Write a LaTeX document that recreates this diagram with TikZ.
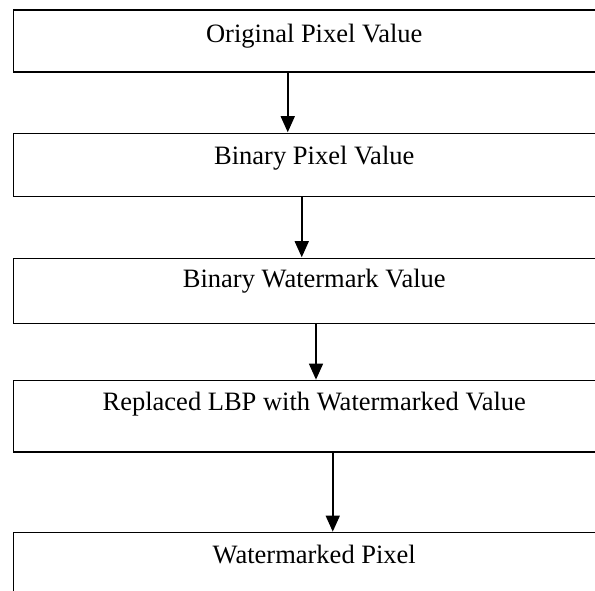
\documentclass[tikz,border=0pt]{standalone}
\usepackage{fontspec}
\setmainfont{Liberation Serif}
\usetikzlibrary{arrows.meta}
\tikzset{
  box/.style={draw=black, line width=1.5pt, rectangle, minimum width=601.5pt, inner sep=0pt, fill=none},
  txt/.style={anchor=base, inner sep=0pt, font=\fontsize{26.5}{30}\selectfont},
  arr/.style={draw=black, line width=1.5pt, -{Triangle[length=16pt,width=14pt]}, shorten >=0.3pt}
}
\begin{document}
\begin{tikzpicture}[x=1pt,y=1pt]
\useasboundingbox (0,0) rectangle (595,591);
\fill[white] (0,0) rectangle (595,591);
\clip (0,0) rectangle (595,591);
\node[box, minimum height=62pt]   (b1) at (314.25,550) {};
\node[box, minimum height=63.4pt] (b2) at (314.25,426) {};
\node[box, minimum height=65pt]   (b3) at (314.25,300.2) {};
\node[box, minimum height=71.3pt] (b4) at (314.25,174.65) {};
\node[box, minimum height=67.3pt] (b5) at (314.25,24.65) {};
\node[txt] (t1) at ([yshift=-33.3pt]b1.north) {Original Pixel Value};
\node[txt] (t2) at ([yshift=-31.7pt]b2.north) {Binary Pixel Value};
\node[txt] (t3) at ([yshift=-29.7pt]b3.north) {Binary Watermark Value};
\node[txt] (t4) at ([yshift=-31pt]b4.north) {Replaced LBP with Watermarked Value};
\node[txt] (t5) at ([yshift=-31.3pt]b5.north) {Watermarked Pixel};
\draw[arr] ([xshift=-26.5pt]b1.south) -- ([xshift=-26.5pt]b2.north);
\draw[arr] ([xshift=-12.5pt]b2.south) -- ([xshift=-12.5pt]b3.north);
\draw[arr] ([xshift=1.75pt]b3.south) -- ([xshift=1.75pt]b4.north);
\draw[arr] ([xshift=18.5pt]b4.south) -- ([xshift=18.5pt]b5.north);
\end{tikzpicture}
\end{document}
